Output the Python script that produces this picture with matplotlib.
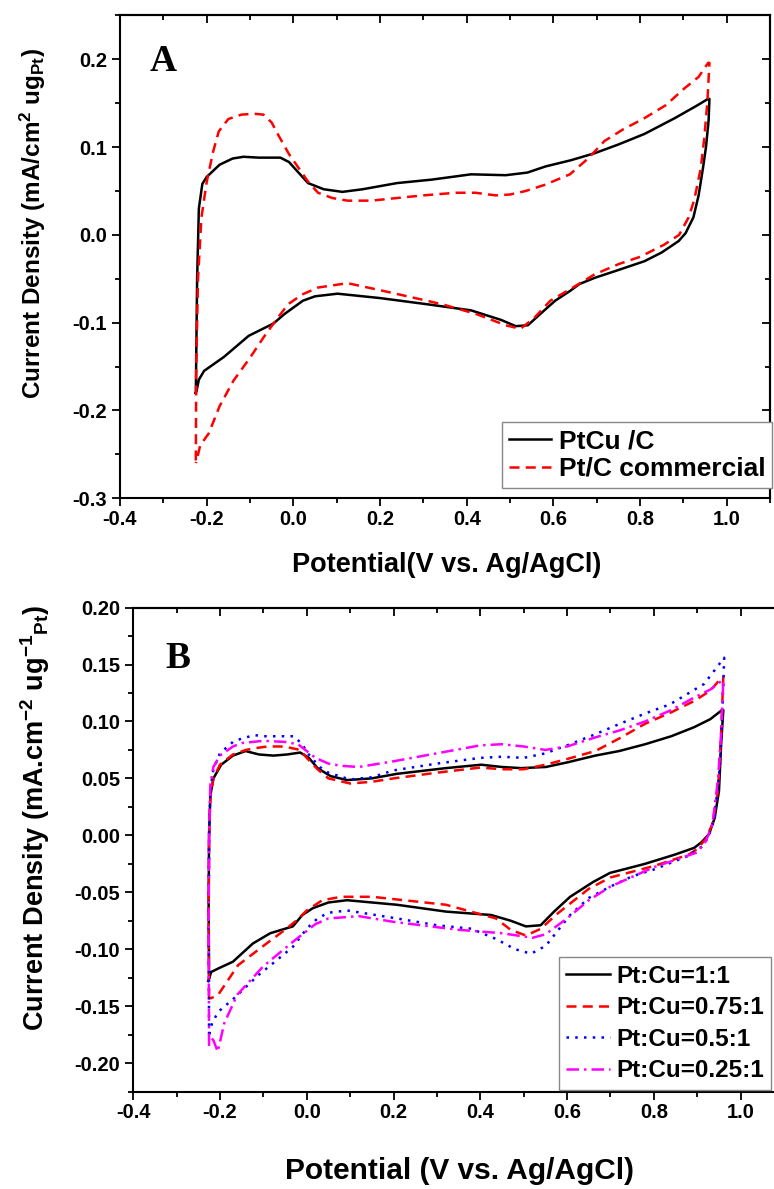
import matplotlib.pyplot as plt
from matplotlib.ticker import MultipleLocator

plt.rcParams['font.family'] = ['Liberation Sans', 'DejaVu Sans']
plt.rcParams['font.weight'] = 'bold'
plt.rcParams['axes.labelweight'] = 'bold'
plt.rcParams['mathtext.fontset'] = 'custom'
plt.rcParams['mathtext.rm'] = 'Liberation Sans:bold'
plt.rcParams['mathtext.default'] = 'rm'

# ---- panel A: PtCu/C vs commercial Pt/C ----
e_ptcu = [-0.225, -0.222, -0.218, -0.21, -0.2, -0.17, -0.14, -0.115, -0.08, -0.03, -0.01, 0.01,
          0.034, 0.07, 0.113, 0.16, 0.239, 0.32, 0.41, 0.49, 0.54, 0.582, 0.64, 0.695, 0.75,
          0.81, 0.88, 0.93, 0.957, 0.96,
          0.958, 0.952, 0.945, 0.935, 0.923, 0.905, 0.889, 0.85, 0.81, 0.75, 0.695, 0.66,
          0.638, 0.604, 0.57, 0.541, 0.513, 0.48, 0.41, 0.308, 0.2, 0.102, 0.05, 0.022, -0.02,
          -0.046, -0.103, -0.16, -0.206, -0.218, -0.223, -0.225]
j_ptcu = [-0.18, -0.05, 0.03, 0.058, 0.066, 0.08, 0.087, 0.089, 0.088, 0.088, 0.083, 0.072,
          0.059, 0.052, 0.049, 0.052, 0.059, 0.063, 0.069, 0.068, 0.071, 0.078, 0.085, 0.093,
          0.103, 0.115, 0.133, 0.147, 0.155, 0.155,
          0.13, 0.1, 0.076, 0.045, 0.02, 0.002, -0.007, -0.02, -0.03, -0.04, -0.049, -0.056,
          -0.064, -0.075, -0.09, -0.103, -0.104, -0.097, -0.086, -0.079, -0.072, -0.067, -0.07,
          -0.075, -0.09, -0.101, -0.115, -0.139, -0.155, -0.165, -0.177, -0.18]

e_ptc = [-0.225, -0.224, -0.22, -0.212, -0.2, -0.185, -0.172, -0.15, -0.12, -0.09, -0.069,
         -0.05, -0.035, -0.01, 0.011, 0.035, 0.057, 0.09, 0.125, 0.18, 0.239, 0.3, 0.375, 0.42,
         0.467, 0.5, 0.536, 0.58, 0.638, 0.68, 0.718, 0.76, 0.81, 0.86, 0.9, 0.935, 0.957,
         0.96, 0.955, 0.948, 0.94, 0.925, 0.912, 0.89, 0.856, 0.8, 0.752, 0.695, 0.638, 0.593,
         0.555, 0.524, 0.49, 0.421, 0.35, 0.308, 0.2, 0.125, 0.057, 0.02, -0.012, -0.04,
         -0.069, -0.1, -0.138, -0.17, -0.195, -0.215, -0.223, -0.225]
j_ptc = [-0.257, -0.15, -0.05, 0.02, 0.06, 0.095, 0.118, 0.132, 0.137, 0.138, 0.137, 0.128,
         0.114, 0.092, 0.077, 0.06, 0.048, 0.042, 0.039, 0.039, 0.042, 0.045, 0.048, 0.048,
         0.045, 0.046, 0.05, 0.057, 0.069, 0.087, 0.107, 0.12, 0.133, 0.148, 0.166, 0.18, 0.196,
         0.196, 0.15, 0.11, 0.076, 0.04, 0.02, 0.0, -0.011, -0.025, -0.033, -0.045, -0.062,
         -0.075, -0.095, -0.107, -0.103, -0.09, -0.08, -0.075, -0.063, -0.055, -0.06, -0.068,
         -0.079, -0.097, -0.117, -0.14, -0.166, -0.195, -0.226, -0.24, -0.257, -0.26]

# ---- panel B: Pt:Cu ratios ----
e_11 = [-0.225, -0.226, -0.225, -0.222, -0.215, -0.197, -0.17, -0.141, -0.11, -0.077, -0.045,
        -0.015, 0.005, 0.025, 0.055, 0.093, 0.15, 0.208, 0.321, 0.402, 0.45, 0.494, 0.551, 0.6,
        0.665, 0.72, 0.78, 0.84, 0.893, 0.93, 0.957,
        0.96, 0.955, 0.95, 0.94, 0.927, 0.91, 0.893, 0.848, 0.78, 0.74, 0.699, 0.66, 0.607,
        0.57, 0.539, 0.505, 0.47, 0.425, 0.321, 0.208, 0.093, 0.05, 0.014, -0.01, -0.032,
        -0.084, -0.124, -0.17, -0.204, -0.22, -0.227]
j_11 = [-0.125, -0.06, 0.0, 0.035, 0.05, 0.062, 0.07, 0.074, 0.071, 0.07, 0.071, 0.0727,
        0.068, 0.059, 0.052, 0.0485, 0.05, 0.054, 0.059, 0.062, 0.06, 0.059, 0.06, 0.064, 0.07,
        0.074, 0.08, 0.087, 0.095, 0.102, 0.11,
        0.11, 0.08, 0.039, 0.015, 0.001, -0.006, -0.011, -0.017, -0.025, -0.029, -0.033,
        -0.041, -0.054, -0.067, -0.079, -0.08, -0.075, -0.07, -0.067, -0.061, -0.057, -0.059,
        -0.064, -0.07, -0.08, -0.086, -0.095, -0.111, -0.117, -0.12, -0.128]

e_075 = [-0.225, -0.226, -0.225, -0.222, -0.215, -0.2, -0.17, -0.14, -0.11, -0.09, -0.06,
         -0.04, -0.015, 0.0, 0.025, 0.05, 0.1, 0.15, 0.2, 0.3, 0.4, 0.45, 0.5, 0.55, 0.6,
         0.665, 0.72, 0.78, 0.84, 0.893, 0.93, 0.957,
         0.96, 0.955, 0.948, 0.935, 0.92, 0.9, 0.88, 0.8, 0.75, 0.7, 0.65, 0.6, 0.574, 0.54,
         0.505, 0.47, 0.436, 0.321, 0.151, 0.08, 0.036, 0.0, -0.021, -0.05, -0.089, -0.158,
         -0.204, -0.22, -0.225]
j_075 = [-0.143, -0.07, 0.0, 0.035, 0.05, 0.062, 0.071, 0.075, 0.077, 0.078, 0.078, 0.077,
         0.075, 0.068, 0.058, 0.05, 0.0455, 0.047, 0.05, 0.055, 0.0595, 0.058, 0.058, 0.062,
         0.067, 0.074, 0.085, 0.098, 0.108, 0.118, 0.127, 0.139,
         0.139, 0.09, 0.04, 0.01, -0.003, -0.012, -0.017, -0.027, -0.032, -0.037, -0.047,
         -0.062, -0.07, -0.082, -0.088, -0.083, -0.073, -0.061, -0.054, -0.054, -0.057,
         -0.066, -0.074, -0.083, -0.094, -0.114, -0.14, -0.143, -0.143]

e_05 = [-0.225, -0.226, -0.225, -0.222, -0.215, -0.2, -0.17, -0.15, -0.12, -0.1, -0.05, -0.03,
        -0.01, 0.0, 0.03, 0.05, 0.1, 0.15, 0.2, 0.3, 0.4, 0.45, 0.5, 0.55, 0.607, 0.66, 0.722,
        0.78, 0.837, 0.916, 0.962,
        0.962, 0.958, 0.952, 0.94, 0.925, 0.91, 0.88, 0.8, 0.75, 0.7, 0.65, 0.607, 0.58,
        0.551, 0.517, 0.48, 0.436, 0.379, 0.3, 0.208, 0.093, 0.05, 0.025, 0.0, -0.032, -0.07,
        -0.112, -0.17, -0.204, -0.218, -0.225]
j_05 = [-0.175, -0.08, 0.0, 0.04, 0.058, 0.072, 0.082, 0.085, 0.088, 0.087, 0.087, 0.087,
        0.08, 0.073, 0.06, 0.055, 0.049, 0.051, 0.057, 0.063, 0.068, 0.069, 0.068, 0.072,
        0.08, 0.088, 0.098, 0.107, 0.115, 0.133, 0.156,
        0.156, 0.11, 0.06, 0.015, -0.002, -0.01, -0.018, -0.03, -0.036, -0.045, -0.055,
        -0.07, -0.083, -0.097, -0.104, -0.1, -0.091, -0.082, -0.079, -0.073, -0.066, -0.068,
        -0.073, -0.082, -0.098, -0.11, -0.123, -0.144, -0.155, -0.165, -0.175]

e_025 = [-0.225, -0.226, -0.225, -0.222, -0.215, -0.2, -0.17, -0.15, -0.1, -0.05, -0.02, 0.0,
         0.02, 0.05, 0.08, 0.12, 0.2, 0.3, 0.4, 0.45, 0.5, 0.55, 0.6, 0.665, 0.72, 0.78, 0.84,
         0.893, 0.93, 0.957,
         0.96, 0.955, 0.948, 0.935, 0.92, 0.9, 0.8, 0.7, 0.65, 0.6, 0.55, 0.52, 0.45, 0.35,
         0.2, 0.12, 0.05, 0.02, -0.03, -0.1, -0.16, -0.19, -0.205, -0.215, -0.22, -0.225]
j_025 = [-0.185, -0.09, 0.0, 0.045, 0.06, 0.07, 0.078, 0.081, 0.083, 0.082, 0.08, 0.074,
         0.068, 0.063, 0.061, 0.06, 0.065, 0.072, 0.079, 0.08, 0.078, 0.075, 0.078, 0.086,
         0.092, 0.1, 0.11, 0.121, 0.128, 0.136,
         0.136, 0.09, 0.05, 0.01, -0.005, -0.015, -0.028, -0.045, -0.057, -0.073, -0.087,
         -0.09, -0.086, -0.083, -0.076, -0.071, -0.073, -0.078, -0.093, -0.115, -0.14, -0.165,
         -0.19, -0.18, -0.178, -0.175]

xticks = [-0.4, -0.2, 0.0, 0.2, 0.4, 0.6, 0.8, 1.0]
xticklabels = ['-0.4', '-0.2', '0.0', '0.2', '0.4', '0.6', '0.8', '1.0']
yticks_a = [-0.3, -0.2, -0.1, 0.0, 0.1, 0.2]
yticklabels_a = ['-0.3', '-0.2', '-0.1', '0.0', '0.1', '0.2']
yticks_b = [-0.20, -0.15, -0.10, -0.05, 0.00, 0.05, 0.10, 0.15, 0.20]
yticklabels_b = ['-0.20', '-0.15', '-0.10', '-0.05', '0.00', '0.05', '0.10', '0.15', '0.20']

fig = plt.figure(figsize=(7.74, 11.89), dpi=100)
ax1 = fig.add_axes([0.155, 0.581, 0.840, 0.406])
ax2 = fig.add_axes([0.172, 0.082, 0.841, 0.407])


def style(ax, yminor):
    for s in ax.spines.values():
        s.set_linewidth(1.5)
    ax.xaxis.set_minor_locator(MultipleLocator(0.1))
    ax.yaxis.set_minor_locator(MultipleLocator(yminor))
    # bottom/left ticks point out, mirrored top/right ticks point in
    ax.tick_params(which='both', direction='out', bottom=True, left=True, width=1.3,
                   labelsize=14.5)
    ax.tick_params(which='major', length=5.5)
    ax.tick_params(which='minor', length=3.5)
    ax.tick_params(axis='x', pad=3)
    ax.tick_params(axis='y', pad=4)
    ax.set_xlim(-0.4, 1.1)
    ax.set_xticks(xticks)
    ax.set_xticklabels(xticklabels)
    tw = ax.secondary_xaxis('top')
    tw.set_xticks(xticks)
    tw.xaxis.set_minor_locator(MultipleLocator(0.1))
    tw.tick_params(which='both', direction='in', labeltop=False, width=1.3)
    tw.tick_params(which='major', length=5.5)
    tw.tick_params(which='minor', length=3.5)
    tw.spines['top'].set_linewidth(1.5)
    rw = ax.secondary_yaxis('right')
    rw.set_yticks(ax.get_yticks())
    rw.yaxis.set_minor_locator(MultipleLocator(yminor))
    rw.tick_params(which='both', direction='in', labelright=False, width=1.3)
    rw.tick_params(which='major', length=5.5)
    rw.tick_params(which='minor', length=3.5)
    rw.spines['right'].set_linewidth(1.5)


# panel A
ax1.plot(e_ptcu, j_ptcu, color='black', lw=1.8, label='PtCu /C')
ax1.plot(e_ptc, j_ptc, color='red', lw=1.8, ls=(0, (4, 2.5)), label='Pt/C commercial')
ax1.set_ylim(-0.3, 0.25)
ax1.set_yticks(yticks_a)
ax1.set_yticklabels(yticklabels_a)
style(ax1, 0.05)
ax1.set_xlabel('Potential(V vs. Ag/AgCl)', fontsize=19.5)
ax1.xaxis.set_label_coords(0.503, -0.112)
ax1.set_ylabel(r'Current Density (mA/cm$^{2}$ ug$_{Pt}$)', fontsize=17.5)
ax1.yaxis.set_label_coords(-0.11, 0.57)
ax1.text(0.045, 0.885, 'A', transform=ax1.transAxes, family='Liberation Serif',
         fontsize=27, fontweight='bold')
leg1 = ax1.legend(loc='lower right', bbox_to_anchor=(1.003, 0.022), fontsize=19,
                  handlelength=1.6, handletextpad=0.3, borderpad=0.25, labelspacing=0.15,
                  borderaxespad=0.0, fancybox=False, edgecolor='#888888', framealpha=1)
leg1.get_frame().set_linewidth(1.0)

# panel B
ax2.plot(e_11, j_11, color='black', lw=1.8, label='Pt:Cu=1:1')
ax2.plot(e_075, j_075, color='red', lw=1.8, ls=(0, (4, 2.5)), label='Pt:Cu=0.75:1')
ax2.plot(e_05, j_05, color='blue', lw=1.8, ls=(0, (1, 2.5)), label='Pt:Cu=0.5:1')
ax2.plot(e_025, j_025, color='magenta', lw=1.8, ls=(0, (5, 2, 1, 2)), label='Pt:Cu=0.25:1')
ax2.set_ylim(-0.225, 0.2)
ax2.set_yticks(yticks_b)
ax2.set_yticklabels(yticklabels_b)
style(ax2, 0.025)
ax2.set_xlabel('Potential (V vs. Ag/AgCl)', fontsize=21.5)
ax2.xaxis.set_label_coords(0.502, -0.135)
ax2.set_ylabel(r'Current Density (mA.cm$^{-2}$ ug$^{-1}$$_{Pt}$)', fontsize=19.5)
ax2.yaxis.set_label_coords(-0.125, 0.565)
ax2.text(0.05, 0.875, 'B', transform=ax2.transAxes, family='Liberation Serif',
         fontsize=27, fontweight='bold')
leg2 = ax2.legend(loc='lower left', bbox_to_anchor=(0.654, 0.004), fontsize=17.5,
                  handlelength=1.8, handletextpad=0.25, borderpad=0.3, labelspacing=0.35,
                  borderaxespad=0.0, fancybox=False, edgecolor='#888888', framealpha=1)
leg2.get_frame().set_linewidth(1.0)

fig.savefig('out.png', dpi=100)
